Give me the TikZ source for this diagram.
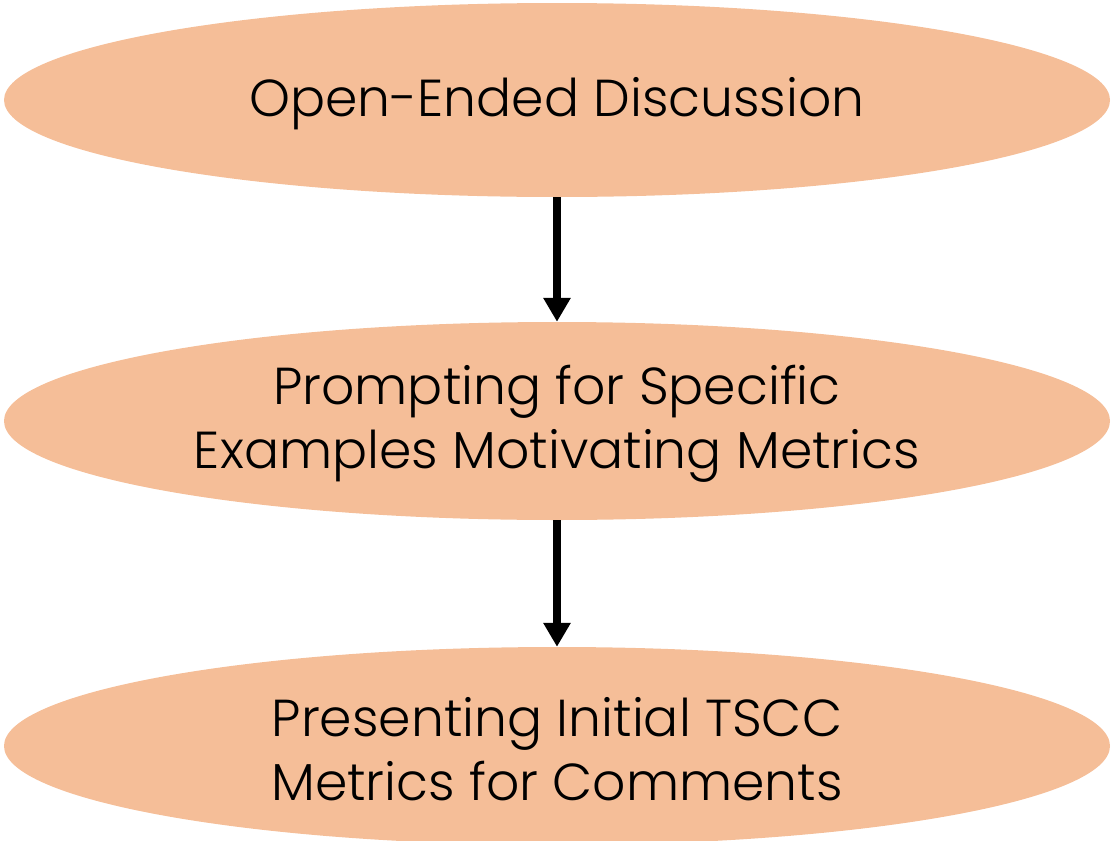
\documentclass[tikz,border=0pt]{standalone}
\usepackage{fontspec}
\setmainfont{Poppins Light}
\usetikzlibrary{shapes.geometric,arrows.meta}
\definecolor{stagefill}{HTML}{F5BE98}
\tikzset{
  stage/.style={ellipse, fill=stagefill, inner sep=0pt, minimum width=1106pt,
    minimum height=194pt},
  caption/.style={align=center, inner sep=0pt, font=\fontsize{52}{64}\selectfont},
  flow/.style={line width=8pt, -{Triangle[length=24pt,width=26pt]}}
}
\begin{document}
\begin{tikzpicture}[x=1pt,y=-1pt]
\useasboundingbox (0,0) rectangle (1112,841);
\node[stage] (open) at (557,100) {};
\node[stage, minimum height=198pt] (prompt) at (557,421) {};
\node[stage, minimum height=198pt] (present) at (557,746) {};
\node[caption] (opentext) at ([yshift=-4pt]open.center) {Open-Ended Discussion};
\node[caption] (prompttext) at ([yshift=-3pt]prompt.center) {Prompting for Specific\\Examples Motivating Metrics};
\node[caption] (presenttext) at ([yshift=-3pt]present.center) {Presenting Initial TSCC\\Metrics for Comments};
\draw[flow] (open.south) -- (prompt.north);
\draw[flow] (prompt.south) -- (present.north);
\end{tikzpicture}
\end{document}
